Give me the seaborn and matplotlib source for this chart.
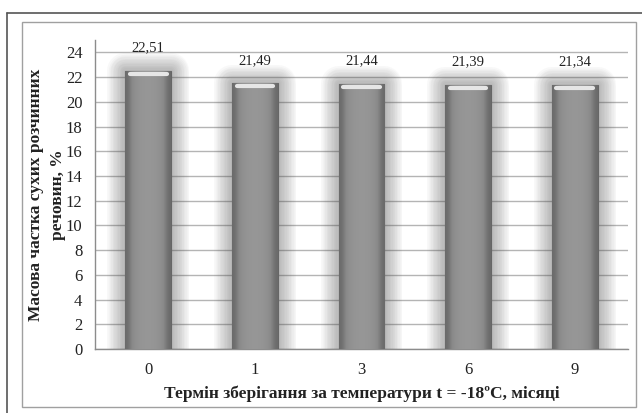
import numpy as np
import pandas as pd
import matplotlib
matplotlib.use('Agg')
import matplotlib.pyplot as plt
import matplotlib.patheffects as pe
from matplotlib.colors import LinearSegmentedColormap
from matplotlib.lines import Line2D
from matplotlib.patches import Rectangle
import seaborn as sb

months = ['0', '1', '3', '6', '9']
solids = [22.51, 21.49, 21.44, 21.39, 21.34]
value_labels = ['22,51', '21,49', '21,44', '21,39', '21,34']
y_ticks = list(range(0, 25, 2))

sb.set_style('white')
plt.rcParams['font.family'] = ['Liberation Serif', 'DejaVu Serif']

frame = pd.DataFrame({'month': months, 'solids': solids})

fig = plt.figure(figsize=(6.42, 4.13), dpi=100)
ax = fig.add_axes([95/642, 64/413, 533/642, 309/413])

sb.barplot(data=frame, x='month', y='solids', color='#8c8c8c', width=0.43,
           saturation=1, ax=ax, zorder=3)

# soft glow round the bars and a shaded fill clipped to each bar
glow = [pe.Stroke(linewidth=w, foreground='#505050', alpha=0.035, joinstyle='round')
        for w in range(26, 1, -2)]
shade = LinearSegmentedColormap.from_list('shade', ['#6a6a6a', '#8a8a8a', '#969696'])
grad = np.array([[0.0, 0.55, 0.85, 1.0, 1.0, 1.0, 0.85, 0.55, 0.0]])
for p in ax.patches:
    p.set_edgecolor('#666666')
    p.set_linewidth(0.8)
    p.set_path_effects(glow + [pe.Normal()])
    x0, w, h = p.get_x(), p.get_width(), p.get_height()
    im = ax.imshow(grad, cmap=shade, vmin=0, vmax=1, aspect='auto',
                   extent=(x0, x0 + w, 0, h), zorder=4, interpolation='bicubic')
    im.set_clip_path(p)
    ax.add_line(Line2D([x0 + w*0.1, x0 + w*0.9], [h - 0.25, h - 0.25],
                       color='#e6e6e6', lw=3, zorder=5, solid_capstyle='round'))

for p, lab in zip(ax.patches, value_labels):
    ax.annotate(lab, (p.get_x() + p.get_width()/2, p.get_height()),
                xytext=(0, 12), textcoords='offset points', ha='center',
                va='bottom', fontsize=10.5, color='#222222')

ax.set_xlim(-0.5, len(months) - 0.5)
ax.set_ylim(0, 25)
ax.set_yticks(y_ticks)
ax.yaxis.grid(True, color='#b4b4b4', lw=1, zorder=0)
ax.set_axisbelow(True)
for s in ['top', 'right']:
    ax.spines[s].set_visible(False)
for s in ['left', 'bottom']:
    ax.spines[s].set_color('#8c8c8c')
    ax.spines[s].set_linewidth(1)

ax.set_xticks(np.arange(-0.5, len(months)), minor=True)
ax.tick_params(axis='x', which='major', length=0, pad=9, labelsize=12, colors='#222222')
ax.tick_params(axis='x', which='minor', length=5, color='#8c8c8c', direction='out')
ax.tick_params(axis='y', length=6, color='#8c8c8c', direction='out', labelsize=12,
               pad=3, labelcolor='#222222')

ax.set_xlabel('Термін зберігання за температури t = -18ºС, місяці',
              fontsize=12.5, fontweight='bold', labelpad=6, color='#222222')
ax.set_ylabel('Масова частка сухих розчинних\nречовин, %', fontsize=12.5,
              fontweight='bold', labelpad=0, color='#222222', linespacing=1.45)

# frame lines of the chart area
fig.add_artist(Rectangle((22/642, 6/413), 614/642, 385/413, transform=fig.transFigure,
                         fill=False, edgecolor='#a0a0a0', lw=1))
fig.add_artist(Line2D([7/642, 7/642], [0, 400/413], transform=fig.transFigure,
                      color='#555555', lw=1.2))
fig.add_artist(Line2D([7/642, 1], [400/413, 400/413], transform=fig.transFigure,
                      color='#555555', lw=1.2))

fig.savefig('out.png', dpi=100)
